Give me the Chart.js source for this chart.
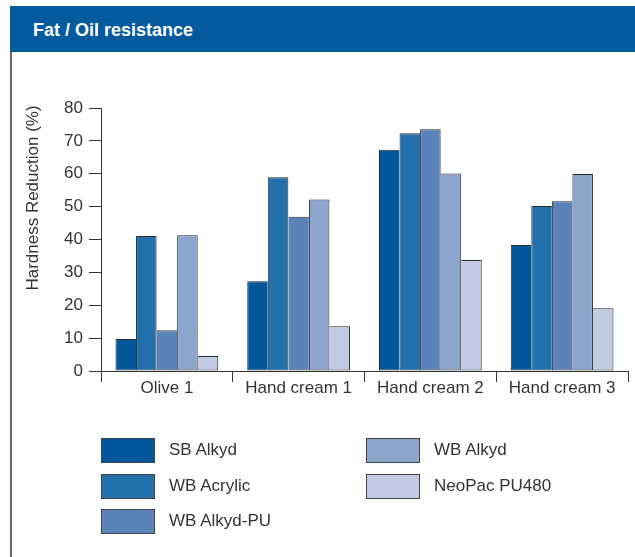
<!DOCTYPE html>
<html>
<head>
<meta charset="utf-8">
<script src="https://cdn.jsdelivr.net/npm/chart.js@4/dist/chart.umd.min.js"></script>
<style>
  html, body { margin: 0; padding: 0; background: #fff; }
  #wrap { position: relative; width: 635px; height: 557px; overflow: hidden; font-family: "Liberation Sans", Arial, sans-serif; }
  #header { position: absolute; left: 10px; top: 6px; width: 625px; height: 46px; background: #035a9c; }
  #header span { position: absolute; left: 23px; top: 14px; color: #fff; font-weight: bold; font-size: 18px; line-height: 20px; }
  #leftline { position: absolute; left: 10px; top: 52px; width: 2px; height: 505px; background: #666; }
  #chart { position: absolute; left: 0; top: 0; }
  .lg { position: absolute; height: 24px; }
  .lg i { position: absolute; left: 0; top: 0; width: 52px; height: 23px; border: 1px solid #444; box-sizing: content-box; }
  .lg b { position: absolute; left: 68px; top: 2px; font-weight: normal; font-size: 17px; color: #333; white-space: nowrap; line-height: 20px; }
</style>
</head>
<body>
<div id="wrap">
  <div id="header"><span id="title"></span></div>
  <div id="leftline"></div>
  <canvas id="chart" width="635" height="557"></canvas>
  <div id="legend"></div>
</div>
<script>
const chartTitle = "Fat / Oil resistance";
const yAxisTitle = "Hardness Reduction (%)";
const categories = ["Olive 1", "Hand cream 1", "Hand cream 2", "Hand cream 3"];
const seriesNames = ["SB Alkyd", "WB Acrylic", "WB Alkyd-PU", "WB Alkyd", "NeoPac PU480"];
const sbAlkyd    = [9.7, 27.3, 67.3, 38.3];
const wbAcrylic  = [41.1, 58.9, 72.3, 50.2];
const wbAlkydPU  = [12.4, 46.9, 73.5, 51.6];
const wbAlkyd    = [41.3, 52.2, 60.1, 59.9];
const neoPac     = [4.6, 13.6, 33.8, 19.1];
const seriesColors = ["#02579b", "#2270ac", "#5a84b9", "#8ba5cd", "#c1cce4"];
const yTicks = { min: 0, max: 80, step: 10 };

document.getElementById('title').textContent = chartTitle;

const seriesValues = [sbAlkyd, wbAcrylic, wbAlkydPU, wbAlkyd, neoPac];
const nSeries = seriesValues.length;

// shared edge between neighbouring bars is drawn once, by the taller bar
function barBorder(ctx) {
  const i = ctx.datasetIndex, j = ctx.dataIndex;
  const v = seriesValues[i][j];
  const left = (i === 0 || v >= seriesValues[i - 1][j]) ? 1 : 0;
  const right = (i === nSeries - 1 || v > seriesValues[i + 1][j]) ? 1 : 0;
  return { top: 1, bottom: 1, left, right };
}

const datasets = seriesNames.map((name, i) => ({
  label: name,
  data: seriesValues[i],
  backgroundColor: seriesColors[i],
  borderColor: '#2b2b2b',
  borderWidth: barBorder,
  borderSkipped: false,
  barPercentage: 1.0,
  categoryPercentage: 0.78
}));

const yTitlePlugin = {
  id: 'yTitle',
  afterDraw(chart) {
    const ctx = chart.ctx;
    ctx.save();
    ctx.translate(33, 198);
    ctx.rotate(-Math.PI / 2);
    ctx.font = '17px "Liberation Sans", Arial, sans-serif';
    ctx.fillStyle = '#333';
    ctx.textAlign = 'center';
    ctx.textBaseline = 'middle';
    ctx.fillText(yAxisTitle, 0, 0);
    ctx.restore();
  }
};

const tickFont = { family: '"Liberation Sans", Arial, sans-serif', size: 17 };

const chart = new Chart(document.getElementById('chart'), {
  type: 'bar',
  data: { labels: categories, datasets },
  options: {
    responsive: false,
    devicePixelRatio: 1,
    animation: false,
    layout: { padding: { top: 108, left: 0, right: 7, bottom: 156 } },
    plugins: { legend: { display: false }, tooltip: { enabled: false } },
    scales: {
      x: {
        offset: true,
        grid: { offset: true, drawOnChartArea: false, drawTicks: true, tickLength: 11, color: '#333', lineWidth: 1 },
        border: { display: true, color: '#333', width: 1 },
        ticks: { color: '#333', font: tickFont, padding: -4, maxRotation: 0 },
        afterFit(scale) { scale.height = 30; }
      },
      y: {
        min: yTicks.min, max: yTicks.max,
        grid: { drawOnChartArea: false, drawTicks: true, tickLength: 12, color: '#333', lineWidth: 1 },
        border: { display: true, color: '#333', width: 1 },
        ticks: { stepSize: yTicks.step, color: '#333', font: tickFont, padding: 6 },
        afterFit(scale) { scale.width = 101; }
      }
    }
  },
  plugins: [yTitlePlugin]
});

// HTML legend built from the chart's datasets (two columns)
const legend = document.getElementById('legend');
const colLeft = [101, 366];
const rowTop = [438, 473.5, 509];
chart.data.datasets.forEach((ds, i) => {
  const col = i < 3 ? 0 : 1;
  const row = i < 3 ? i : i - 3;
  const item = document.createElement('div');
  item.className = 'lg';
  item.style.left = colLeft[col] + 'px';
  item.style.top = rowTop[row] + 'px';
  const box = document.createElement('i');
  box.style.background = ds.backgroundColor;
  const txt = document.createElement('b');
  txt.textContent = ds.label;
  item.appendChild(box);
  item.appendChild(txt);
  legend.appendChild(item);
});
</script>
</body>
</html>
